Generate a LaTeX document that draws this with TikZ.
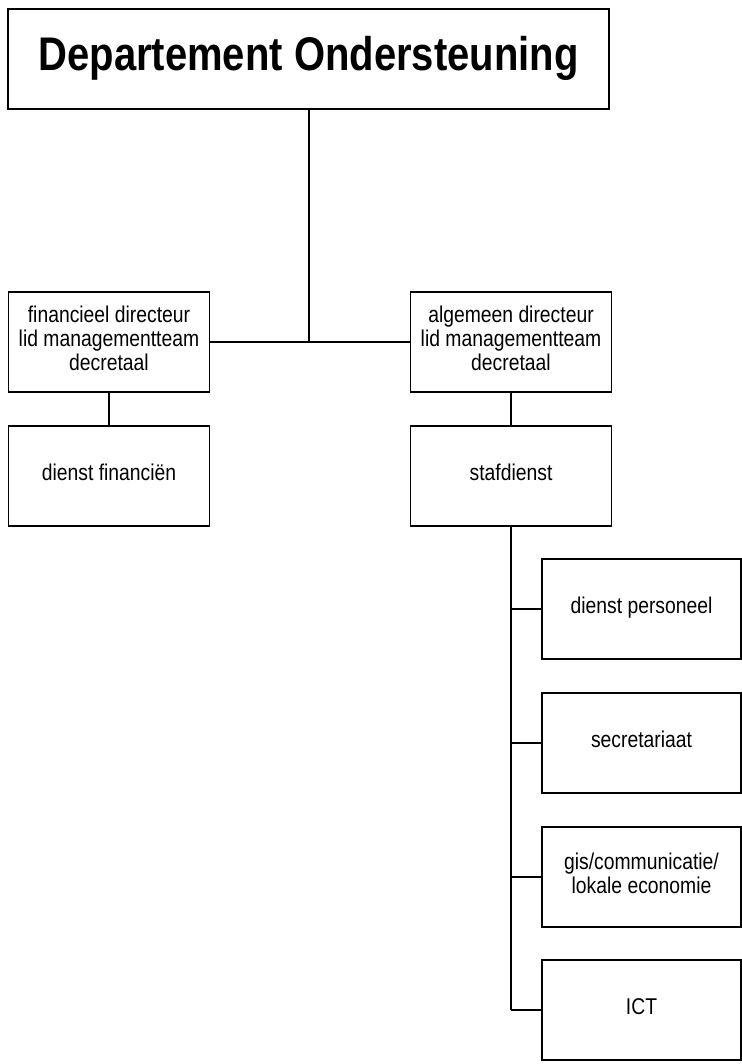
\documentclass[tikz,border=0pt]{standalone}
\usepackage{fontspec}
\setmainfont{Liberation Sans}
\newcommand\tall[1]{\scalebox{1}[1.18]{\begin{tabular}{@{}c@{}}#1\end{tabular}}}
\tikzstyle{every path} = [line width=0.9pt]
\tikzstyle{unit} = [draw,rectangle,line width=1pt,minimum width=150.75pt,minimum height=75pt,inner sep=1pt,align=center,font=\fontsize{14.5}{15.3}\selectfont]
\tikzstyle{head} = [unit,minimum width=450.75pt,font=\bfseries\fontsize{30}{36}\selectfont]
\tikzstyle{sub} = [unit,minimum width=149.25pt]
\tikzstyle{stem} = [line width=1.5pt]

\begin{document}
\begin{tikzpicture}[x=0.75pt,y=-0.75pt]
\useasboundingbox (0,0) rectangle (742,1064);

\node[head] (dept) at (308.5,59) {\tall{Departement Ondersteuning}};

\node[unit] (fin) at (109,342) {\tall{financieel directeur\\lid managementteam\\decretaal}};
\node[unit] (alg) at (511,342) {\tall{algemeen directeur\\lid managementteam\\decretaal}};
\node[unit] (dfin) at (109,476) {\tall{dienst financiën}};
\node[unit] (staf) at (511,476) {\tall{stafdienst}};

\node[sub] (pers) at (641.5,609) {\tall{dienst personeel}};
\node[sub] (secr) at (641.5,743) {\tall{secretariaat}};
\node[sub] (gis) at (641.5,877) {\tall{gis/communicatie/\\lokale economie}};
\node[sub] (ict) at (641.5,1010) {\tall{ICT}};

\coordinate (split) at (dept |- fin);
\coordinate (trunk) at (staf |- ict);

\draw[stem] (dept) -- (split);
\draw (fin) -- (alg);
\draw (fin) -- (dfin);
\draw (alg) -- (staf);
\draw[stem] (staf) -- (trunk);
\foreach \n in {pers,secr,gis,ict}
  \draw (staf |- \n) -- (\n);

\end{tikzpicture}
\end{document}
